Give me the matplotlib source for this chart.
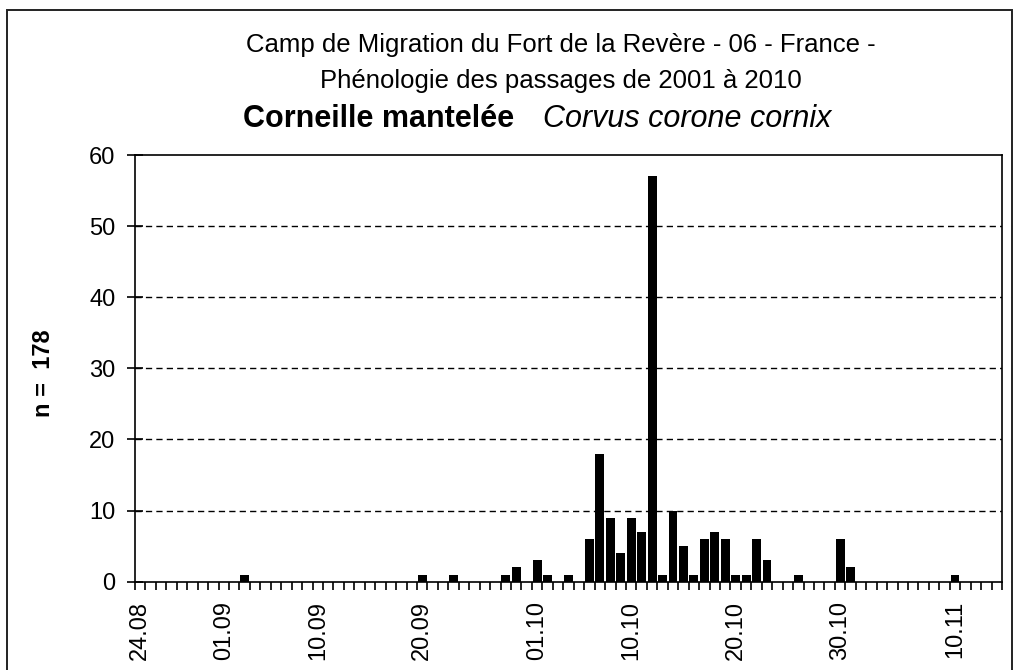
import numpy as np
import matplotlib
matplotlib.use("Agg")
import matplotlib.pyplot as plt
from matplotlib.patches import Rectangle

plt.rcParams['font.family'] = ['Liberation Sans', 'DejaVu Sans']

# one category per day, 24.08 -> 14.11 (index 0..82)
n_days = 83
# days with birds counted: (day index, count)
jours = [10, 27, 30, 35, 36, 38, 39, 41, 43, 44, 45, 46, 47, 48, 49, 50,
         51, 52, 53, 54, 55, 56, 57, 58, 59, 60, 63, 67, 68, 78]
effectifs = [1, 1, 1, 1, 2, 3, 1, 1, 6, 18, 9, 4, 9, 7, 57, 1,
             10, 5, 1, 6, 7, 6, 1, 1, 6, 3, 1, 6, 2, 1]
label_pos = [0, 8, 17, 27, 38, 47, 57, 67, 78]
label_txt = ['24.08', '01.09', '10.09', '20.09', '01.10', '10.10', '20.10', '30.10', '10.11']

W, H = 1017, 670
fig = plt.figure(figsize=(W / 100, H / 100), dpi=100)
fig.patch.set_facecolor('white')

# chart frame
fig.patches.append(Rectangle((7 / W, -0.05), 1005 / W, 1 - 10 / H + 0.05,
                             transform=fig.transFigure, fill=False,
                             edgecolor='#222222', linewidth=1.4))

ax = fig.add_axes([135 / W, 1 - 581.7 / H, (1002 - 135) / W, (581.7 - 155) / H])

valeurs = np.zeros(n_days)
valeurs[jours] = effectifs
ax.bar(np.arange(n_days), valeurs, width=0.85, color='black', zorder=3)

ax.set_xlim(-0.5, n_days - 0.5)
ax.set_ylim(0, 60)

for s in ax.spines.values():
    s.set_linewidth(1.2)
    s.set_color('black')

ax.set_yticks(range(0, 61, 10))
ax.tick_params(axis='y', direction='inout', length=12, width=1.2, pad=8,
               labelsize=17)
for y in range(10, 60, 10):
    ax.axhline(y, color='black', linewidth=1.0, dashes=(4.5, 3), zorder=1)

ax.set_xticks(label_pos)
ax.set_xticklabels(label_txt, rotation=90, fontsize=17)
ax.tick_params(axis='x', which='major', length=0, pad=14)
ax.set_xticks(np.arange(-0.5, n_days, 1), minor=True)
ax.tick_params(axis='x', which='minor', direction='out', length=6, width=1.2)

fig.text(43 / W, 1 - 373 / H, 'n =  178', rotation=90, ha='center', va='center',
         fontsize=17, fontweight='bold')

fig.text(561 / W, 1 - 52 / H, 'Camp de Migration du Fort de la Revère - 06 - France -',
         ha='center', va='baseline', fontsize=18.5)
fig.text(561 / W, 1 - 88 / H, 'Phénologie des passages de 2001 à 2010',
         ha='center', va='baseline', fontsize=18.5)
fig.text(243 / W, 1 - 127 / H, 'Corneille mantelée', ha='left', va='baseline',
         fontsize=22, fontweight='bold')
fig.text(543 / W, 1 - 127 / H, 'Corvus corone cornix', ha='left', va='baseline',
         fontsize=22, style='italic')

fig.savefig('out.png', dpi=100)
